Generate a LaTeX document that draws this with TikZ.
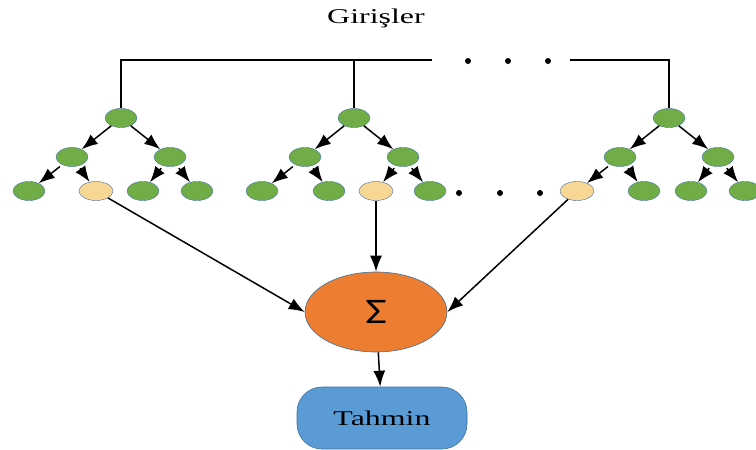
\documentclass[tikz,border=0pt]{standalone}
\usepackage{fontspec}
\setmainfont{Liberation Serif}
\newfontfamily\sigmafont{Carlito}
\usepackage{graphicx}
\usetikzlibrary{shapes, arrows.meta, positioning}
\definecolor{leafgreen}{HTML}{70AD47}
\definecolor{leafyellow}{HTML}{F7D793}
\definecolor{sumorange}{HTML}{ED7D31}
\definecolor{outblue}{HTML}{41719C}
\definecolor{predblue}{HTML}{5B9BD5}
\newcommand{\widetext}[1]{\scalebox{1.52}[1]{#1}}
\tikzstyle{line} = [draw, line width=1.5pt, -{Latex[length=16pt,width=12pt]}]
\tikzstyle{branch} = [line, shorten <=3pt]
\tikzstyle{bus} = [draw, line width=1.3pt]
\tikzstyle{treenode} = [ellipse, draw=outblue, line width=0.4pt, fill=leafgreen, minimum width=32pt, minimum height=19pt, inner sep=0pt]
\tikzstyle{picked} = [treenode, fill=leafyellow, minimum width=34pt]
\tikzstyle{dot} = [circle, fill=black, minimum size=6pt, inner sep=0pt]
\tikzstyle{sumnode} = [ellipse, draw=outblue, line width=0.6pt, fill=sumorange, minimum width=142pt, minimum height=80pt]
\tikzstyle{prednode} = [rectangle, draw=outblue, line width=0.6pt, fill=predblue, rounded corners=25pt, minimum width=170pt, minimum height=62pt]

\begin{document}
\begin{tikzpicture}[x=1pt, y=-1pt, node distance=39pt and 49pt, on grid]
\useasboundingbox (0,0) rectangle (756,450);
\node (inputs) at (376,18) {\fontsize{21}{21}\selectfont\widetext{Girişler}};
% first tree
\node [treenode] (r1) at (121,118) {};
\node [treenode, below left=of r1] (a1) {};
\node [treenode, below right=of r1] (b1) {};
\node [treenode, below left=34pt and 43pt of a1] (c1) {};
\node [picked, below right=34pt and 24pt of a1] (d1) {};
\node [treenode, below left=34pt and 27pt of b1] (e1) {};
\node [treenode, below right=34pt and 27pt of b1] (f1) {};
% second tree
\node [treenode] (r2) at (354,118) {};
\node [treenode, below left=of r2] (a2) {};
\node [treenode, below right=of r2] (b2) {};
\node [treenode, below left=34pt and 43pt of a2] (c2) {};
\node [treenode, below right=34pt and 24pt of a2] (d2) {};
\node [picked, below left=34pt and 27pt of b2] (e2) {};
\node [treenode, below right=34pt and 27pt of b2] (f2) {};
% last tree
\node [treenode] (r3) at (669,118) {};
\node [treenode, below left=of r3] (a3) {};
\node [treenode, below right=of r3] (b3) {};
\node [picked, below left=34pt and 43pt of a3] (c3) {};
\node [treenode, below right=34pt and 24pt of a3] (d3) {};
\node [treenode, below left=34pt and 27pt of b3] (e3) {};
\node [treenode, below right=34pt and 27pt of b3] (f3) {};
% dots
\node [dot] (topdot1) at (468,61) {};
\node [dot] (topdot2) at (508,61) {};
\node [dot] (topdot3) at (548,61) {};
\node [dot] (rowdot1) at (459,193) {};
\node [dot] (rowdot2) at (500,193) {};
\node [dot] (rowdot3) at (540,193) {};
\node [sumnode, below=121pt of e2] (sum) {\sigmafont\fontsize{36}{36}\selectfont\scalebox{1.3}[1]{Σ}};
\node [prednode, below right=106pt and 6pt of sum] (pred) {\fontsize{21}{21}\selectfont\widetext{Tahmin}};
\coordinate (busline) at (0,60);
\coordinate (busgapL) at (432,60);
\coordinate (busgapR) at (570,60);
\path [bus] (r1.north) -- (r1.north |- busline) -- (busgapL);
\path [bus] (r2.north) -- (r2.north |- busline);
\path [bus] (busgapR) -- (r3.north |- busline) -- (r3.north);
\path [line] (r1) -- (a1);
\path [line] (r1) -- (b1);
\path [branch] (a1) -- (c1);
\path [branch] (a1) -- (d1);
\path [branch] (b1) -- (e1);
\path [branch] (b1) -- (f1);
\path [line] (r2) -- (a2);
\path [line] (r2) -- (b2);
\path [branch] (a2) -- (c2);
\path [branch] (a2) -- (d2);
\path [branch] (b2) -- (e2);
\path [branch] (b2) -- (f2);
\path [line] (r3) -- (a3);
\path [line] (r3) -- (b3);
\path [branch] (a3) -- (c3);
\path [branch] (a3) -- (d3);
\path [branch] (b3) -- (e3);
\path [branch] (b3) -- (f3);
\path [line] (d1) -- (sum.west);
\path [line] (e2) -- (sum.north);
\path [line] (c3) -- (sum.east);
\path [line] (sum) -- (pred);
\end{tikzpicture}
\end{document}
